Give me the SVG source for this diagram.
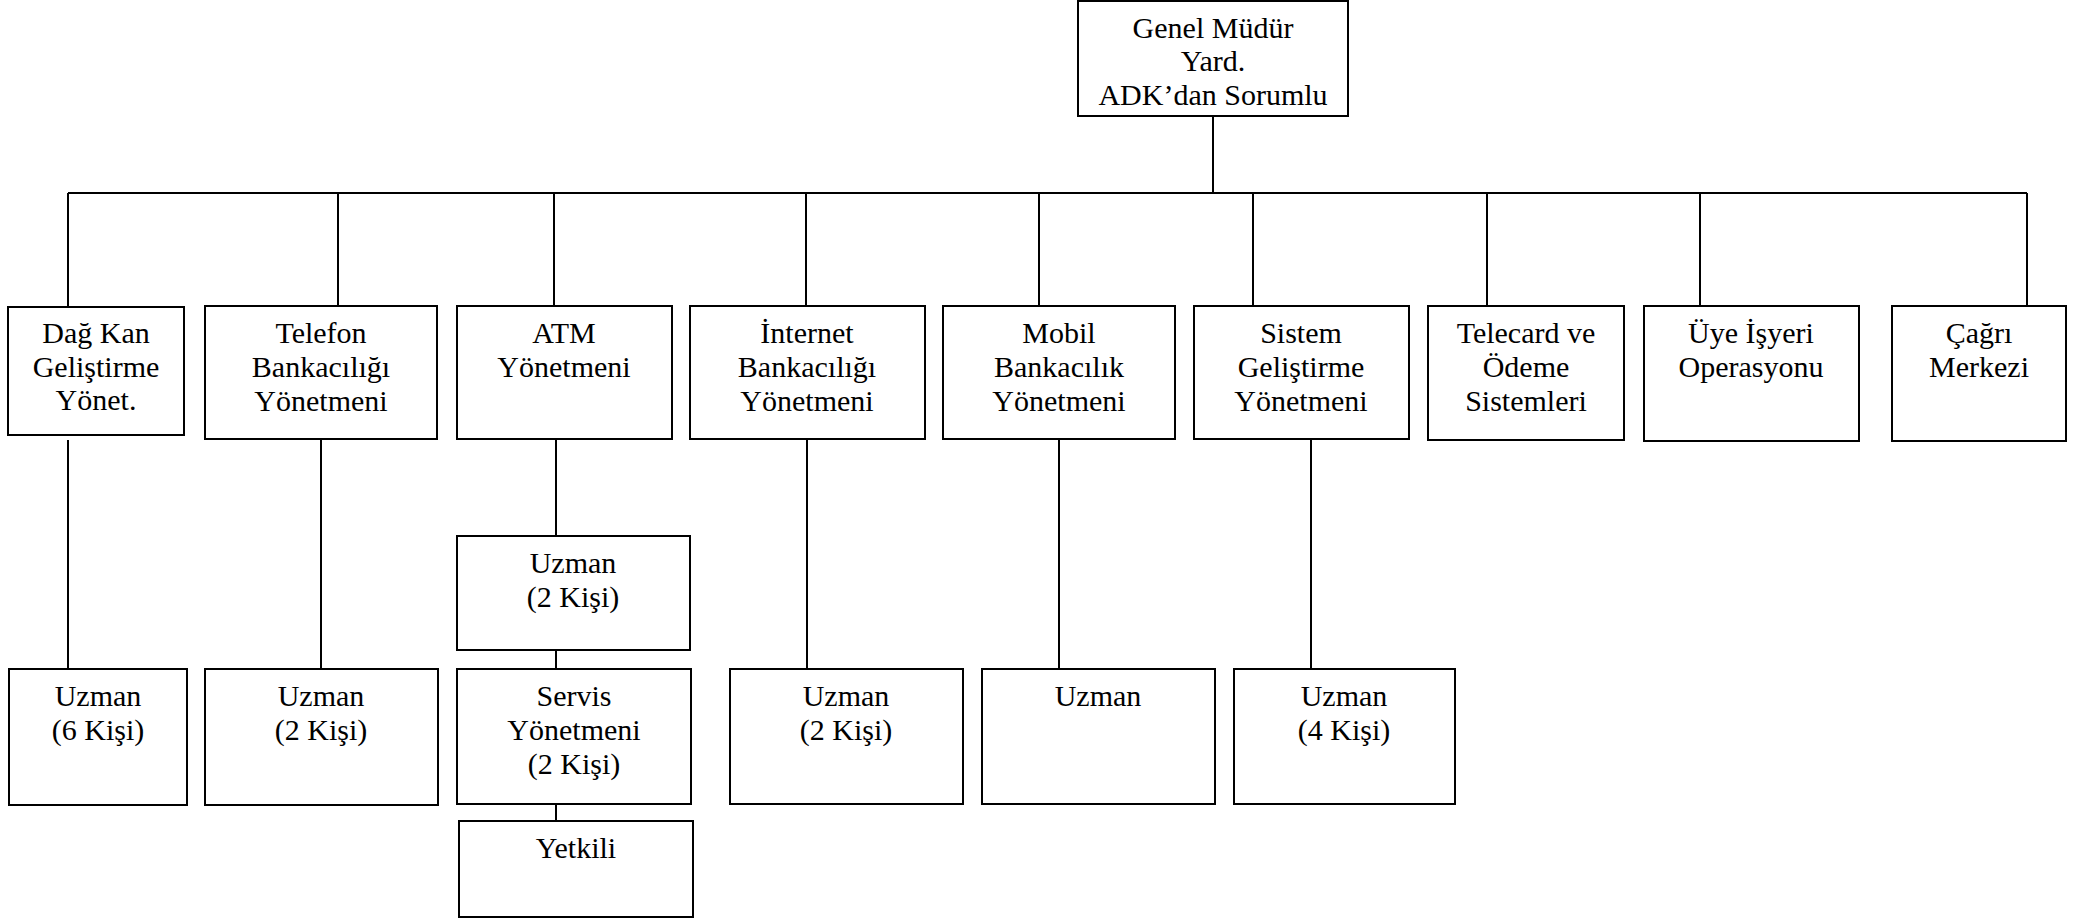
<svg xmlns="http://www.w3.org/2000/svg" width="2097" height="920" viewBox="0 0 2097 920">
  <style>
    .box { fill: #ffffff; stroke: #000000; stroke-width: 2; }
    text { font-family: 'Liberation Serif', 'DejaVu Serif', serif; font-size: 30px; fill: #000000; text-anchor: middle; }
    .wire { fill: none; stroke: #000000; stroke-width: 2; }
  </style>
  <rect width="2097" height="920" fill="#ffffff"/>

  <!-- connectors -->
  <g id="connectors" class="wire">
    <path d="M1213,116 V193"/>
    <path d="M68,193 H2027"/>
    <path d="M68,193 V307"/>
    <path d="M338,193 V306"/>
    <path d="M554,193 V306"/>
    <path d="M806,193 V306"/>
    <path d="M1039,193 V306"/>
    <path d="M1253,193 V306"/>
    <path d="M1487,193 V306"/>
    <path d="M1700,193 V306"/>
    <path d="M2027,193 V306"/>
    <path d="M68,440 V669"/>
    <path d="M321,439 V669"/>
    <path d="M556,439 V536"/>
    <path d="M556,650 V669"/>
    <path d="M556,804 V821"/>
    <path d="M807,439 V669"/>
    <path d="M1059,439 V669"/>
    <path d="M1311,439 V669"/>
  </g>

  <g font-family="Liberation Serif, serif">
  <!-- top -->
  <g id="genel-mudur-yard">
    <rect class="box" x="1078" y="1" width="270" height="115"/>
    <text x="1213" y="38">Genel Müdür</text>
    <text x="1213" y="71">Yard.</text>
    <text x="1213" y="105">ADK’dan Sorumlu</text>
  </g>

  <!-- first level -->
  <g id="dag-kan">
    <rect class="box" x="8" y="307" width="176" height="128"/>
    <text x="96" y="343">Dağ Kan</text>
    <text x="96" y="377">Geliştirme</text>
    <text x="96" y="410">Yönet.</text>
  </g>
  <g id="telefon-bankaciligi">
    <rect class="box" x="205" y="306" width="232" height="133"/>
    <text x="321" y="343">Telefon</text>
    <text x="321" y="377">Bankacılığı</text>
    <text x="321" y="411">Yönetmeni</text>
  </g>
  <g id="atm">
    <rect class="box" x="457" y="306" width="215" height="133"/>
    <text x="564" y="343">ATM</text>
    <text x="564" y="377">Yönetmeni</text>
  </g>
  <g id="internet-bankaciligi">
    <rect class="box" x="690" y="306" width="235" height="133"/>
    <text x="807" y="343">İnternet</text>
    <text x="807" y="377">Bankacılığı</text>
    <text x="807" y="411">Yönetmeni</text>
  </g>
  <g id="mobil-bankacilik">
    <rect class="box" x="943" y="306" width="232" height="133"/>
    <text x="1059" y="343">Mobil</text>
    <text x="1059" y="377">Bankacılık</text>
    <text x="1059" y="411">Yönetmeni</text>
  </g>
  <g id="sistem-gelistirme">
    <rect class="box" x="1194" y="306" width="215" height="133"/>
    <text x="1301" y="343">Sistem</text>
    <text x="1301" y="377">Geliştirme</text>
    <text x="1301" y="411">Yönetmeni</text>
  </g>
  <g id="telecard">
    <rect class="box" x="1428" y="306" width="196" height="134"/>
    <text x="1526" y="343">Telecard ve</text>
    <text x="1526" y="377">Ödeme</text>
    <text x="1526" y="411">Sistemleri</text>
  </g>
  <g id="uye-isyeri">
    <rect class="box" x="1644" y="306" width="215" height="135"/>
    <text x="1751" y="343">Üye İşyeri</text>
    <text x="1751" y="377">Operasyonu</text>
  </g>
  <g id="cagri-merkezi">
    <rect class="box" x="1892" y="306" width="174" height="135"/>
    <text x="1979" y="343">Çağrı</text>
    <text x="1979" y="377">Merkezi</text>
  </g>

  <!-- second level -->
  <g id="dag-kan-uzman">
    <rect class="box" x="9" y="669" width="178" height="136"/>
    <text x="98" y="706">Uzman</text>
    <text x="98" y="740">(6 Kişi)</text>
  </g>
  <g id="telefon-uzman">
    <rect class="box" x="205" y="669" width="233" height="136"/>
    <text x="321" y="706">Uzman</text>
    <text x="321" y="740">(2 Kişi)</text>
  </g>
  <g id="atm-uzman">
    <rect class="box" x="457" y="536" width="233" height="114"/>
    <text x="573" y="573">Uzman</text>
    <text x="573" y="607">(2 Kişi)</text>
  </g>
  <g id="atm-servis">
    <rect class="box" x="457" y="669" width="234" height="135"/>
    <text x="574" y="706">Servis</text>
    <text x="574" y="740">Yönetmeni</text>
    <text x="574" y="774">(2 Kişi)</text>
  </g>
  <g id="atm-yetkili">
    <rect class="box" x="459" y="821" width="234" height="96"/>
    <text x="576" y="858">Yetkili</text>
  </g>
  <g id="internet-uzman">
    <rect class="box" x="730" y="669" width="233" height="135"/>
    <text x="846" y="706">Uzman</text>
    <text x="846" y="740">(2 Kişi)</text>
  </g>
  <g id="mobil-uzman">
    <rect class="box" x="982" y="669" width="233" height="135"/>
    <text x="1098" y="706">Uzman</text>
  </g>
  <g id="sistem-uzman">
    <rect class="box" x="1234" y="669" width="221" height="135"/>
    <text x="1344" y="706">Uzman</text>
    <text x="1344" y="740">(4 Kişi)</text>
  </g>
  </g>
</svg>
